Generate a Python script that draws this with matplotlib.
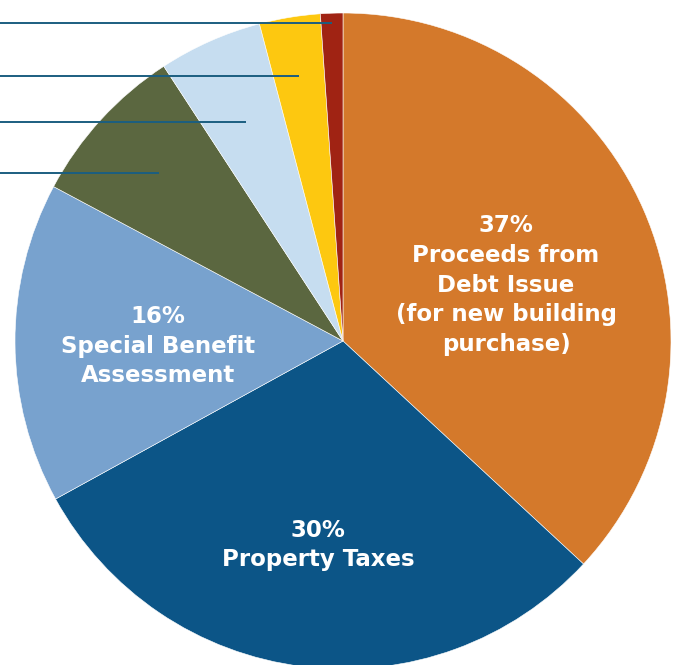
import numpy as np
import matplotlib
matplotlib.use("Agg")
import matplotlib.pyplot as plt

categories = ["Proceeds from Debt Issue (for new building purchase)", "Property Taxes",
              "Special Benefit Assessment", "Other 1", "Other 2", "Other 3", "Other 4"]
values = [36.9, 30.1, 15.8, 8.0, 5.1, 3.0, 1.1]
colors = ["#D4792B", "#0C5587", "#78A2CE", "#5B6740", "#C6DDF0", "#FDC810", "#A02313"]
labels = {0: "37%\nProceeds from\nDebt Issue\n(for new building\npurchase)",
          1: "30%\nProperty Taxes",
          2: "16%\nSpecial Benefit\nAssessment"}
label_pos = {0: (506, 285), 1: (318, 545), 2: (158, 346)}
leader_idx = [6, 5, 4, 3]
leader_r = [0.97, 0.82, 0.73, 0.76]

W, H = 673, 665
fig = plt.figure(figsize=(W / 100, H / 100), dpi=100)
ax = fig.add_axes([0, 0, 1, 1])
cx, cy, R = 343, H - 341, 328
wedges, _ = ax.pie(values, colors=colors, startangle=90, counterclock=False,
                   center=(cx, cy), radius=R,
                   wedgeprops=dict(edgecolor="white", linewidth=0.4))
ax.set_xlim(0, W)
ax.set_ylim(0, H)
ax.set_aspect("equal")
ax.axis("off")

for i, txt in labels.items():
    x, y = label_pos[i]
    ax.text(x, H - y, txt, ha="center", va="center", color="white",
            fontsize=16.5, fontweight="bold", linespacing=1.38, family="DejaVu Sans")

for idx, rf in zip(leader_idx, leader_r):
    w = wedges[idx]
    mid = np.deg2rad((w.theta1 + w.theta2) / 2)
    ex = cx + R * rf * np.cos(mid)
    ey = cy + R * rf * np.sin(mid)
    ax.plot([0, ex], [ey, ey], color="#1B5E80", lw=1.4, solid_capstyle="butt")

fig.savefig("out.png", dpi=100)
